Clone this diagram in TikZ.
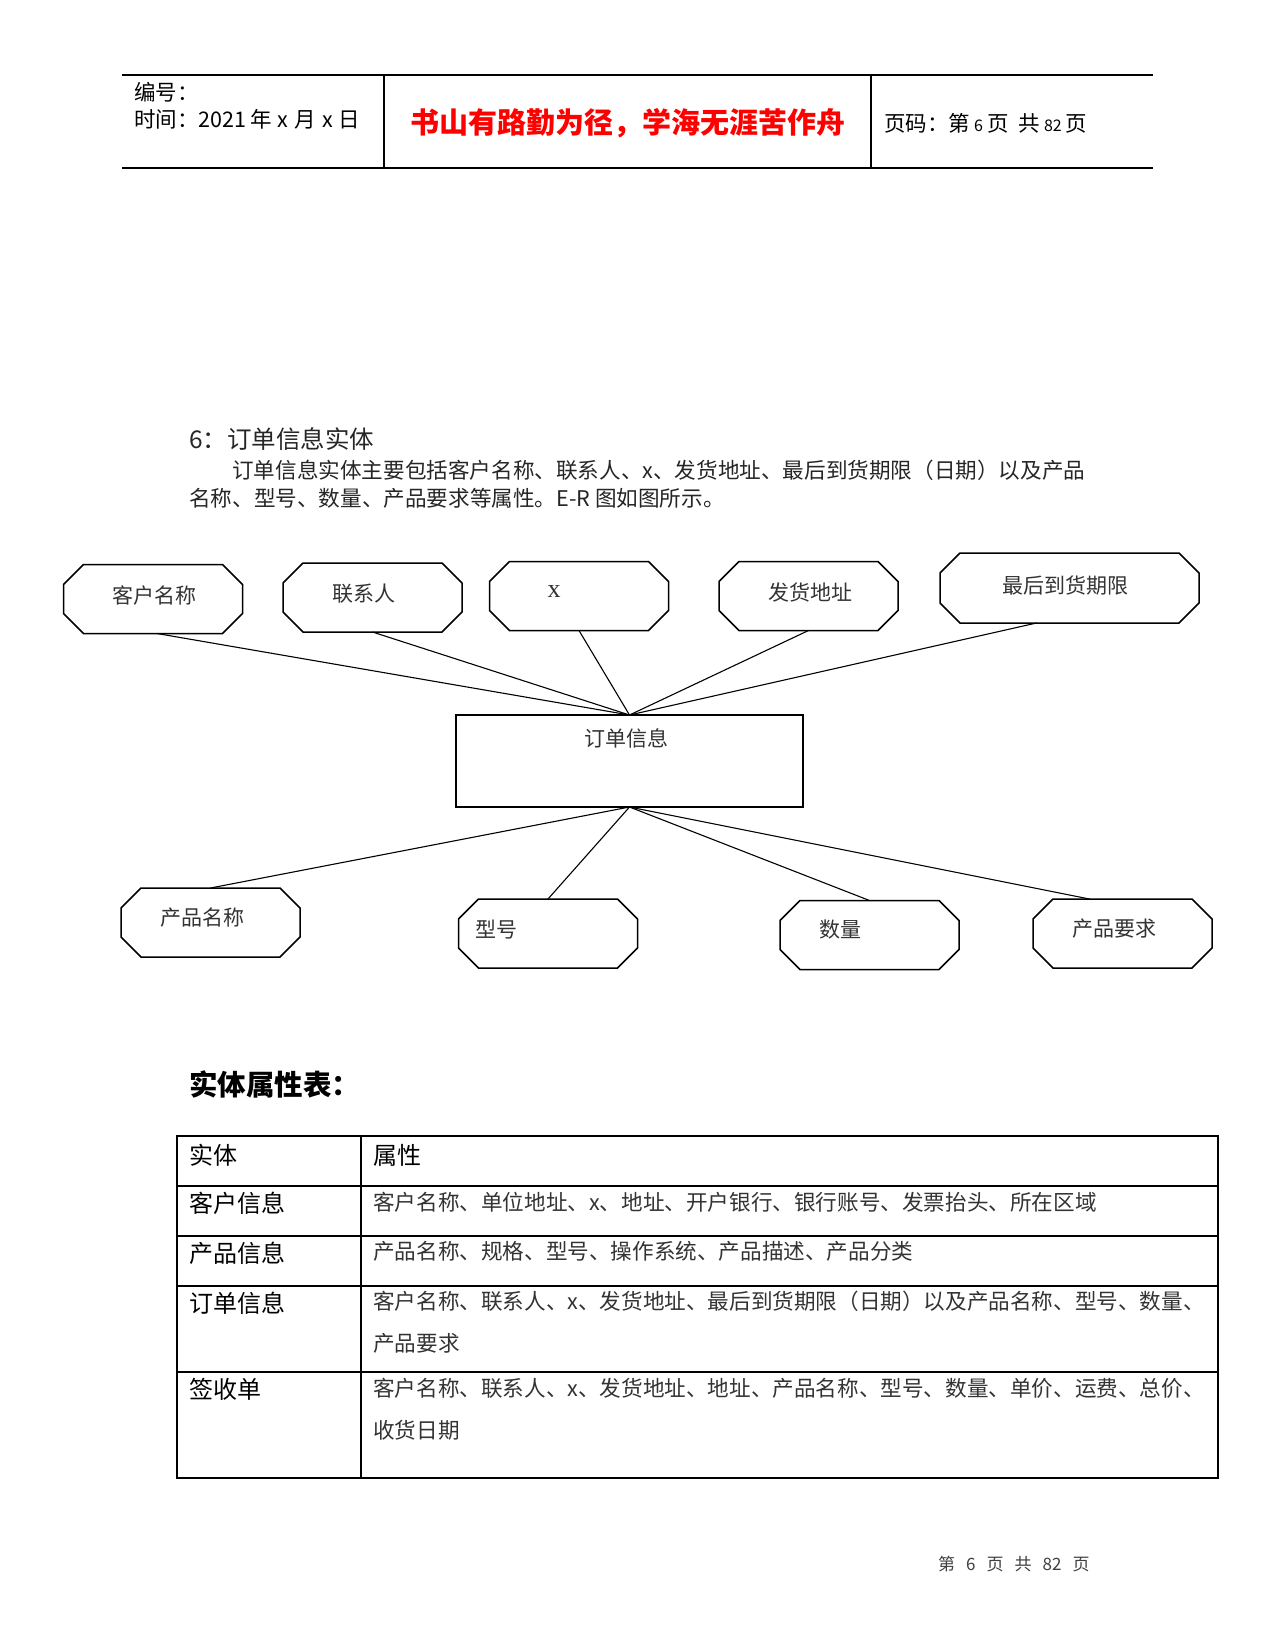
\documentclass[tikz,border=0pt]{standalone}
\usepackage{fontspec}
\setmainfont{Noto Sans CJK SC}
\newfontfamily\latinserif{Liberation Serif}
\usetikzlibrary{calc}
\tikzset{
  octo/.style={minimum width=179pt, minimum height=69pt, inner sep=0pt, outer sep=0pt},
  octline/.style={line width=1.5pt, black},
  conn/.style={line width=1.1pt, black},
  entbox/.style={draw, line width=1.8pt, minimum width=347pt, minimum height=92pt, inner sep=0pt, outer sep=0pt},
  lbl/.style={inner sep=0pt, font=\fontsize{21}{25}\selectfont, text=black!80},
  hdr/.style={inner sep=0pt, anchor=west, font=\fontsize{21.5}{25}\selectfont},
  body/.style={inner sep=0pt, anchor=west, font=\fontsize{21.6}{26}\selectfont, text=black!85},
  thead/.style={inner sep=0pt, anchor=west, font=\fontsize{24}{28}\selectfont},
  tcell/.style={inner sep=0pt, anchor=west, font=\fontsize{21.6}{26}\selectfont, text=black!80},
  rule/.style={line width=1.1pt, black},
}
\newcommand\drawocto[1]{\draw[octline] ([xshift=20pt]#1.north west) -- ([xshift=-20pt]#1.north east) -- ([yshift=-20pt]#1.north east) -- ([yshift=20pt]#1.south east) -- ([xshift=-20pt]#1.south east) -- ([xshift=20pt]#1.south west) -- ([yshift=20pt]#1.south west) -- ([yshift=-20pt]#1.north west) -- cycle;}
\begin{document}
\begin{tikzpicture}[x=1pt,y=-1pt]
\useasboundingbox (0,0) rectangle (1275,1650);
\fill[white] (0,0) rectangle (1275,1650);

% ---------- header ----------
\draw[rule] (122,75) -- (1153,75);
\draw[rule] (122,168) -- (1153,168);
\draw[rule] (384,75) -- (384,168);
\draw[rule] (871,75) -- (871,168);
\node[hdr] (bh) at (134,92) {编号：};
\node[hdr] (sj) at (134,119) {时间：2021\hspace{4pt}年\hspace{6pt}x\hspace{6pt}月\hspace{6pt}x\hspace{6pt}日};
\node[inner sep=0pt, text=red, font=\fontsize{29}{32}\selectfont\bfseries] (motto) at (628,123) {书山有路勤为径，学海无涯苦作舟};
\node[hdr] (ym) at (884,123) {页码：第\hspace{4pt}{\fontsize{16}{20}\selectfont 6}\hspace{4pt}页\hspace{10pt}共\hspace{4pt}{\fontsize{16}{20}\selectfont 82}\hspace{4pt}页};

% ---------- section text ----------
\node[inner sep=0pt, anchor=west, font=\fontsize{24.5}{28}\selectfont, text=black!85] (sec) at (189,439) {6：订单信息实体};
\node[body] (p1) at (232,470) {订单信息实体主要包括客户名称、联系人、x、发货地址、最后到货期限（日期）以及产品};
\node[body] (p2) at (189,498) {名称、型号、数量、产品要求等属性。E-R 图如图所示。};

% ---------- ER diagram ----------
\node[octo] (kh) at (153,599) {};
\node[octo] (lx) at (372.5,597.5) {};
\node[octo] (xx) at (579,596) {};
\node[octo] (fh) at (808.5,596) {};
\node[octo, minimum width=259pt, minimum height=70pt] (zh) at (1069.5,588) {};
\node[octo] (cp) at (210.5,922.5) {};
\node[octo] (xh) at (548,933.5) {};
\node[octo] (sl) at (869.5,935) {};
\node[octo] (yq) at (1122.5,933.5) {};
\foreach \n in {kh,lx,xx,fh,zh,cp,xh,sl,yq} {\drawocto{\n}}

\node[entbox] (dd) at (629.5,761) {};

\node[lbl] (tkh) at (154,595) {客户名称};
\node[lbl] (tlx) at (364,594) {联系人};
\node[lbl, font=\latinserif\fontsize{26}{28}\selectfont] (txx) at (554,592) {x};
\node[lbl] (tfh) at (810,592) {发货地址};
\node[lbl] (tzh) at (1065,585) {最后到货期限};
\node[lbl] (tdd) at (626,738) {订单信息};
\node[lbl] (tcp) at (202,918) {产品名称};
\node[lbl] (txh) at (496,930) {型号};
\node[lbl] (tsl) at (840,930) {数量};
\node[lbl] (tyq) at (1114,929) {产品要求};

\draw[conn] ([xshift=4pt]kh.south) -- (dd.north);
\draw[conn] (lx.south) -- (dd.north);
\draw[conn] (xx.south) -- (dd.north);
\draw[conn] (fh.south) -- (dd.north);
\draw[conn] ([xshift=-33pt]zh.south) -- (dd.north);
\draw[conn] (dd.south) -- (cp.north);
\draw[conn] (dd.south) -- (xh.north);
\draw[conn] (dd.south) -- (sl.north);
\draw[conn] (dd.south) -- ([xshift=-33pt]yq.north);

% ---------- attribute table ----------
\node[inner sep=0pt, anchor=west, font=\fontsize{28.5}{32}\selectfont\bfseries] (tt) at (189,1084) {实体属性表：};
\draw[rule] (177,1136) rectangle (1218,1478);
\draw[rule] (361,1136) -- (361,1478);
\foreach \yy in {1186,1236,1286,1372} {\draw[rule] (177,\yy) -- (1218,\yy);}

\node[thead] (h1) at (189,1155) {实体};
\node[thead] (h2) at (373,1155) {属性};
\node[thead] (e1) at (189,1203) {客户信息};
\node[tcell] (a1) at (373,1202) {客户名称、单位地址、x、地址、开户银行、银行账号、发票抬头、所在区域};
\node[thead] (e2) at (189,1253) {产品信息};
\node[tcell] (a2) at (373,1251) {产品名称、规格、型号、操作系统、产品描述、产品分类};
\node[thead] (e3) at (189,1303) {订单信息};
\node[tcell] (a3) at (373,1301) {客户名称、联系人、x、发货地址、最后到货期限（日期）以及产品名称、型号、数量、};
\node[tcell] (a3b) at (373,1343) {产品要求};
\node[thead] (e4) at (189,1389) {签收单};
\node[tcell] (a4) at (373,1388) {客户名称、联系人、x、发货地址、地址、产品名称、型号、数量、单价、运费、总价、};
\node[tcell] (a4b) at (373,1430) {收货日期};

% ---------- footer ----------
\node[inner sep=0pt, anchor=west, font=\fontsize{17}{20}\selectfont, text=black!75] (ft) at (938,1564) {第\hspace{11pt}6\hspace{11pt}页\hspace{11pt}共\hspace{11pt}82\hspace{11pt}页};
\end{tikzpicture}
\end{document}
